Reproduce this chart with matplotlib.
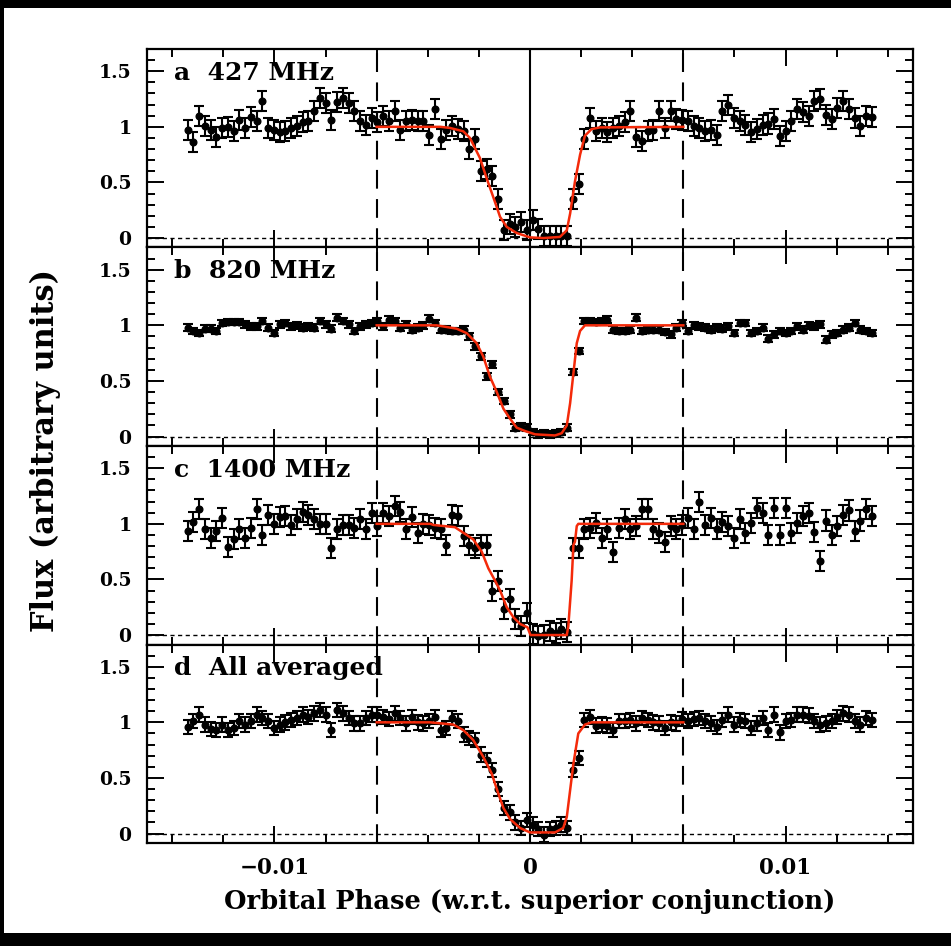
import matplotlib
matplotlib.use("Agg")
import matplotlib.pyplot as plt
import numpy as np
from matplotlib.patches import Rectangle
from matplotlib.ticker import MultipleLocator, FixedLocator

plt.rcParams['font.family'] = ['DejaVu Serif']
plt.rcParams['font.weight'] = 'bold'
plt.rcParams['axes.labelweight'] = 'bold'

# phase bins (w.r.t. superior conjunction), same for all four panels
n_bins = 120
phase = -0.0134 + 0.000225 * np.arange(n_bins)

flux_427 = [
    0.97, 0.865, 1.10, 1.01, 0.97, 0.91, 0.99, 1.00, 0.96, 1.06,
    0.99, 1.09, 1.05, 1.23, 0.99, 0.97, 0.95, 0.96, 0.99, 1.01,
    1.04, 1.05, 1.14, 1.26, 1.21, 1.06, 1.22, 1.26, 1.21, 1.14,
    1.05, 1.02, 1.08, 1.04, 1.10, 1.05, 1.14, 0.97, 1.05, 1.06,
    1.05, 1.05, 0.93, 1.16, 0.89, 0.97, 1.01, 0.98, 0.96, 0.80,
    0.89, 0.60, 0.62, 0.56, 0.35, 0.07, 0.13, 0.10, 0.14, 0.07,
    0.16, 0.08, 0.02, 0.02, 0.02, 0.02, 0.02, 0.35, 0.49, 0.89,
    1.08, 0.96, 0.99, 0.95, 0.99, 1.01, 1.04, 1.14, 0.91, 0.87,
    0.96, 0.97, 1.14, 0.99, 1.14, 1.07, 1.06, 1.05, 1.01, 0.99,
    0.96, 0.97, 0.93, 1.14, 1.20, 1.08, 1.05, 1.02, 0.95, 0.98,
    1.02, 1.03, 1.07, 0.92, 0.96, 1.05, 1.16, 1.13, 1.10, 1.23,
    1.25, 1.11, 1.07, 1.17, 1.23, 1.16, 1.08, 1.01, 1.10, 1.09,
]
flux_820 = [
    0.98, 0.95, 0.93, 0.97, 0.97, 0.95, 1.02, 1.03, 1.03, 1.03,
    1.01, 0.99, 0.99, 1.04, 0.98, 0.93, 1.01, 1.02, 0.99, 1.00,
    0.98, 0.99, 0.98, 1.04, 1.01, 0.97, 1.07, 1.04, 1.01, 0.95,
    0.99, 1.01, 1.02, 1.04, 0.99, 1.05, 1.04, 0.98, 1.01, 0.96,
    0.98, 1.00, 1.06, 1.02, 0.96, 0.96, 0.95, 0.95, 0.96, 0.90,
    0.81, 0.72, 0.54, 0.65, 0.40, 0.32, 0.20, 0.08, 0.09, 0.08,
    0.04, 0.02, 0.03, 0.02, 0.03, 0.04, 0.08, 0.58, 0.77, 1.04,
    1.04, 1.03, 1.04, 1.05, 0.96, 0.95, 0.95, 0.96, 1.07, 0.95,
    0.96, 0.96, 0.96, 0.94, 0.92, 0.98, 1.02, 0.95, 1.00, 0.99,
    0.98, 0.96, 0.98, 0.97, 0.99, 0.93, 1.02, 1.02, 0.93, 0.95,
    0.98, 0.88, 0.92, 0.95, 0.93, 0.95, 0.99, 0.96, 1.00, 0.99,
    1.01, 0.87, 0.92, 0.93, 0.96, 0.98, 1.02, 0.96, 0.95, 0.93,
]
flux_1400 = [
    0.94, 1.02, 1.13, 0.95, 0.87, 0.94, 1.05, 0.79, 0.86, 0.95,
    0.87, 0.96, 1.13, 0.90, 1.08, 1.00, 1.06, 1.07, 0.99, 1.04,
    1.11, 1.08, 1.04, 1.00, 1.00, 0.78, 0.95, 0.99, 0.99, 0.96,
    1.04, 0.95, 1.10, 0.98, 1.10, 1.07, 1.16, 1.11, 0.95, 1.06,
    0.92, 1.00, 0.99, 0.96, 0.95, 0.81, 1.08, 1.07, 0.89, 0.81,
    0.78, 0.81, 0.81, 0.40, 0.49, 0.23, 0.32, 0.14, 0.08, 0.20,
    0.01, -0.01, 0.00, 0.04, 0.02, 0.05, 0.03, 0.78, 0.78, 0.95,
    0.96, 1.01, 0.87, 0.95, 0.75, 0.96, 1.04, 0.95, 0.98, 1.13,
    1.13, 0.95, 0.92, 0.84, 0.98, 0.95, 0.99, 1.05, 0.95, 1.20,
    0.99, 1.05, 0.95, 1.02, 0.98, 0.87, 1.04, 0.92, 1.01, 1.14,
    1.10, 0.90, 1.14, 0.90, 1.14, 0.92, 1.01, 1.07, 1.10, 0.93,
    0.67, 1.03, 0.90, 0.98, 1.08, 1.12, 0.94, 1.03, 1.13, 1.07,
]
flux_avg = [
    0.96, 1.01, 1.07, 0.98, 0.94, 0.93, 0.98, 0.93, 0.95, 1.01,
    0.98, 1.01, 1.07, 1.04, 1.01, 0.95, 0.98, 1.00, 1.02, 1.04,
    1.07, 1.05, 1.08, 1.11, 1.07, 0.93, 1.11, 1.08, 1.04, 0.99,
    0.99, 1.04, 1.07, 1.07, 1.05, 1.03, 1.08, 1.04, 0.99, 1.05,
    1.00, 0.99, 1.01, 1.05, 0.93, 0.95, 1.04, 1.01, 0.89, 0.86,
    0.84, 0.71, 0.66, 0.57, 0.40, 0.23, 0.19, 0.10, 0.05, 0.12,
    0.08, 0.04, -0.01, 0.04, 0.05, 0.08, 0.05, 0.57, 0.68, 1.02,
    1.05, 0.97, 0.98, 0.97, 0.93, 1.01, 1.01, 1.02, 0.99, 1.04,
    1.02, 1.00, 0.99, 0.95, 1.00, 0.99, 1.03, 1.01, 1.03, 1.04,
    1.01, 0.99, 0.96, 1.02, 1.07, 0.98, 1.02, 1.01, 0.95, 0.99,
    1.04, 0.93, 1.07, 0.91, 1.01, 1.02, 1.07, 1.07, 1.06, 1.01,
    0.98, 0.99, 1.01, 1.05, 1.08, 1.07, 1.01, 0.98, 1.04, 1.02,
]
# typical 1-sigma error of each panel
err_427 = 0.09
err_820 = 0.03
err_1400 = 0.09
err_avg = 0.065

# fitted eclipse model
model_427_x = [-0.006, -0.0035, -0.00313, -0.00261, -0.00235, -0.00196, -0.0017,
               -0.00144, -0.00117, -0.00091, -0.00052, 0.0, 0.00052, 0.00117,
               0.00144, 0.00157, 0.00176, 0.00196, 0.00215, 0.00241, 0.00274, 0.006]
model_427_y = [1.0, 1.0, 0.99, 0.96, 0.90, 0.72, 0.54, 0.37, 0.19, 0.10, 0.045,
               0.006, 0.0, 0.01, 0.07, 0.22, 0.51, 0.75, 0.92, 0.98, 0.995, 1.0]
model_820_x = [-0.006, -0.00365, -0.00287, -0.00248, -0.00209, -0.00183, -0.00157,
               -0.0013, -0.00104, -0.00078, -0.00052, -0.0002, 0.0002, 0.00098,
               0.00124, 0.00144, 0.00157, 0.0017, 0.00183, 0.00196, 0.00215, 0.006]
model_820_y = [1.0, 1.0, 0.97, 0.93, 0.84, 0.72, 0.54, 0.40, 0.25, 0.16, 0.08,
               0.05, 0.02, 0.01, 0.03, 0.10, 0.30, 0.57, 0.84, 0.95, 1.0, 1.0]
model_1400_x = [-0.006, -0.0039, -0.00378, -0.00294, -0.00261, -0.00222, -0.00189,
                -0.00163, -0.00137, -0.00117, -0.00091, -0.00065, -0.00039,
                -0.0001, 0.00002, 0.00144, 0.0015, 0.00157, 0.00163, 0.0017,
                0.00176, 0.00183, 0.00189, 0.006]
model_1400_y = [1.0, 1.0, 0.99, 0.97, 0.92, 0.86, 0.75, 0.60, 0.49, 0.40, 0.25,
                0.16, 0.10, 0.07, 0.0, 0.0, 0.08, 0.30, 0.49, 0.81, 0.84, 0.98,
                1.0, 1.0]
model_avg_x = [-0.006, -0.00391, -0.003, -0.00261, -0.00222, -0.00183, -0.0015,
               -0.00124, -0.00104, -0.00078, -0.00039, 0.0, 0.0002, 0.00098,
               0.0013, 0.00144, 0.00157, 0.0017, 0.00189, 0.00215, 0.00241, 0.006]
model_avg_y = [1.0, 1.0, 0.98, 0.93, 0.84, 0.69, 0.54, 0.36, 0.23, 0.13, 0.05,
               0.01, 0.01, 0.01, 0.05, 0.15, 0.39, 0.63, 0.90, 0.98, 1.0, 1.0]

panel_labels = ["a  427 MHz", "b  820 MHz", "c  1400 MHz", "d  All averaged"]
fluxes = [flux_427, flux_820, flux_1400, flux_avg]
errors = [err_427, err_820, err_1400, err_avg]
models = [(model_427_x, model_427_y), (model_820_x, model_820_y),
          (model_1400_x, model_1400_y), (model_avg_x, model_avg_y)]

W, H = 951, 946
fig = plt.figure(figsize=(W / 100, H / 100), dpi=100)
fig.patch.set_facecolor('black')
fig.patches.append(Rectangle((4 / W, (H - 933) / H), 1, (933 - 8) / H,
                             transform=fig.transFigure, facecolor='white',
                             edgecolor='none', zorder=-10))

left, width = 146.7 / W, 766.6 / W
bottom, top = (H - 843) / H, (H - 49) / H
ph = (top - bottom) / 4

axes = []
for k in range(4):
    ax = fig.add_axes([left, top - (k + 1) * ph, width, ph])
    axes.append(ax)
    ax.set_xlim(-0.015, 0.015)
    ax.set_ylim(-0.085, 1.70)

    ax.axhline(0, color='black', lw=1.0, ls=(0, (3, 2.5)), zorder=1)
    ax.axvline(0, color='black', lw=1.5, zorder=1)
    for xv in (-0.006, 0.006):
        ax.axvline(xv, color='black', lw=1.5, ls=(0, (9, 5)), zorder=1)

    ax.errorbar(phase, fluxes[k], yerr=errors[k], fmt='o', color='black',
                ms=4.8, elinewidth=1.5, capsize=3.8, capthick=1.5, zorder=3)
    mx, my = models[k]
    ax.plot(mx, my, color='#f42a0a', lw=1.8, zorder=4)

    ax.text(0.036, 0.88, panel_labels[k], transform=ax.transAxes,
            fontsize=18, ha='left', va='center')

    ax.xaxis.set_major_locator(FixedLocator([-0.01, 0, 0.01]))
    ax.xaxis.set_minor_locator(MultipleLocator(0.002))
    ax.yaxis.set_major_locator(FixedLocator([0, 0.5, 1, 1.5]))
    ax.yaxis.set_minor_locator(MultipleLocator(0.1))
    ax.tick_params(which='both', direction='in', top=True, right=True,
                   width=1.4, labelsize=13.5)
    ax.tick_params(which='major', length=12)
    ax.tick_params(which='minor', length=6)
    ax.tick_params(axis='y', pad=11)
    ax.set_yticklabels(['0', '0.5', '1', '1.5'])
    for s in ax.spines.values():
        s.set_linewidth(1.6)
    if k < 3:
        ax.tick_params(labelbottom=False)

axes[-1].set_xticklabels(['\u22120.01', '0', '0.01'])
axes[-1].tick_params(axis='x', pad=10, labelsize=15.5)
axes[-1].set_xlabel('Orbital Phase (w.r.t. superior conjunction)', fontsize=18.5,
                    labelpad=7)
fig.text(45 / W, 1 - 450 / H, 'Flux (arbitrary units)', rotation=90,
         ha='center', va='center', fontsize=22)

fig.savefig('out.png', dpi=100, facecolor=fig.get_facecolor())
